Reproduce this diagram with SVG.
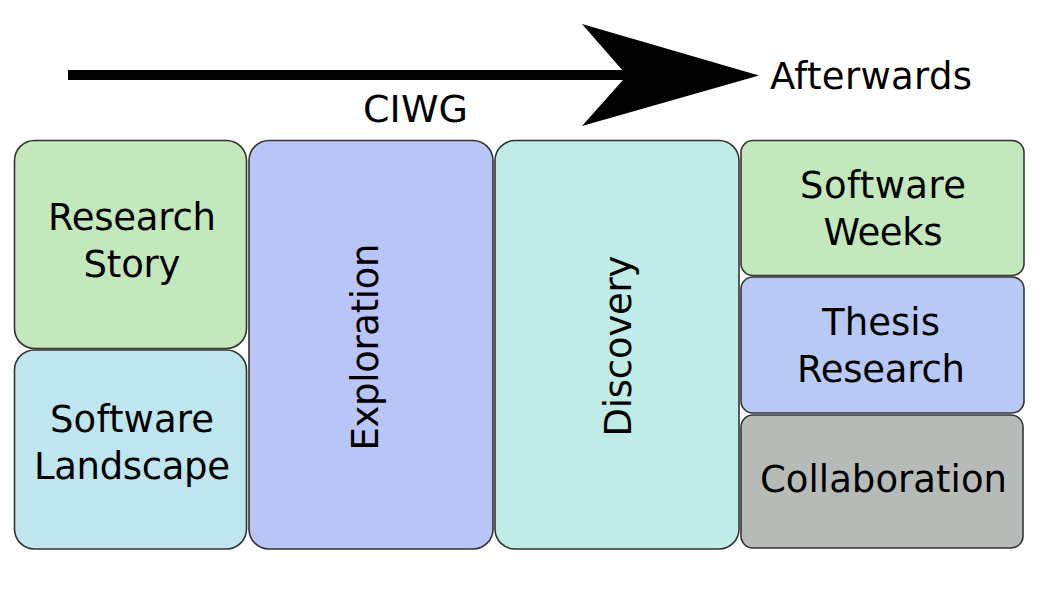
<svg xmlns="http://www.w3.org/2000/svg" width="1052" height="596" viewBox="0 0 1052 596">
<style>
.box{stroke:#333;stroke-width:1.6}
.t{font-family:"DejaVu Sans",Verdana,sans-serif;font-size:37px;fill:#000;text-anchor:middle}
</style>
<rect width="1052" height="596" fill="#fff"/>
<g id="connectors">
<rect x="68" y="70" width="562" height="10" fill="#000"/>
<polygon points="582,24 759,75.5 582,126 627,75.5" fill="#000"/>
</g>
<g id="label-afterwards"><text class="t" x="871" y="89" textLength="202">Afterwards</text></g>
<g id="label-ciwg"><text class="t" x="415.5" y="122" style="font-size:38px" textLength="105">CIWG</text></g>
<g id="research-story">
<rect class="box" x="14.5" y="140.5" width="232" height="208" rx="20" fill="#c2e8bc"/>
<text class="t" x="132" y="230" textLength="168">Research</text>
<text class="t" x="132" y="277" textLength="97">Story</text>
</g>
<g id="software-landscape">
<rect class="box" x="14.5" y="350" width="232" height="199" rx="20" fill="#bfe6ef"/>
<text class="t" x="132" y="432" textLength="164">Software</text>
<text class="t" x="132" y="479" textLength="196">Landscape</text>
</g>
<g id="exploration">
<rect class="box" x="249" y="140.5" width="244" height="408.5" rx="20" fill="#b9c5f7"/>
<text class="t" transform="translate(378,347) rotate(-90)" textLength="207">Exploration</text>
</g>
<g id="discovery">
<rect class="box" x="495" y="140.5" width="244" height="408.5" rx="20" fill="#c0ece8"/>
<text class="t" transform="translate(631,346) rotate(-90)" textLength="181">Discovery</text>
</g>
<g id="software-weeks">
<rect class="box" x="741" y="140.5" width="283" height="135" rx="12" fill="#c2e8bc"/>
<text class="t" x="883" y="198" textLength="166">Software</text>
<text class="t" x="883" y="245" textLength="119">Weeks</text>
</g>
<g id="thesis-research">
<rect class="box" x="741" y="277" width="283" height="136" rx="12" fill="#b9c9f5"/>
<text class="t" x="881" y="335" textLength="118">Thesis</text>
<text class="t" x="881" y="382" textLength="168">Research</text>
</g>
<g id="collaboration">
<rect class="box" x="741" y="415" width="282" height="133" rx="12" fill="#b6bbb8"/>
<text class="t" x="883.5" y="492" textLength="247">Collaboration</text>
</g>
</svg>
